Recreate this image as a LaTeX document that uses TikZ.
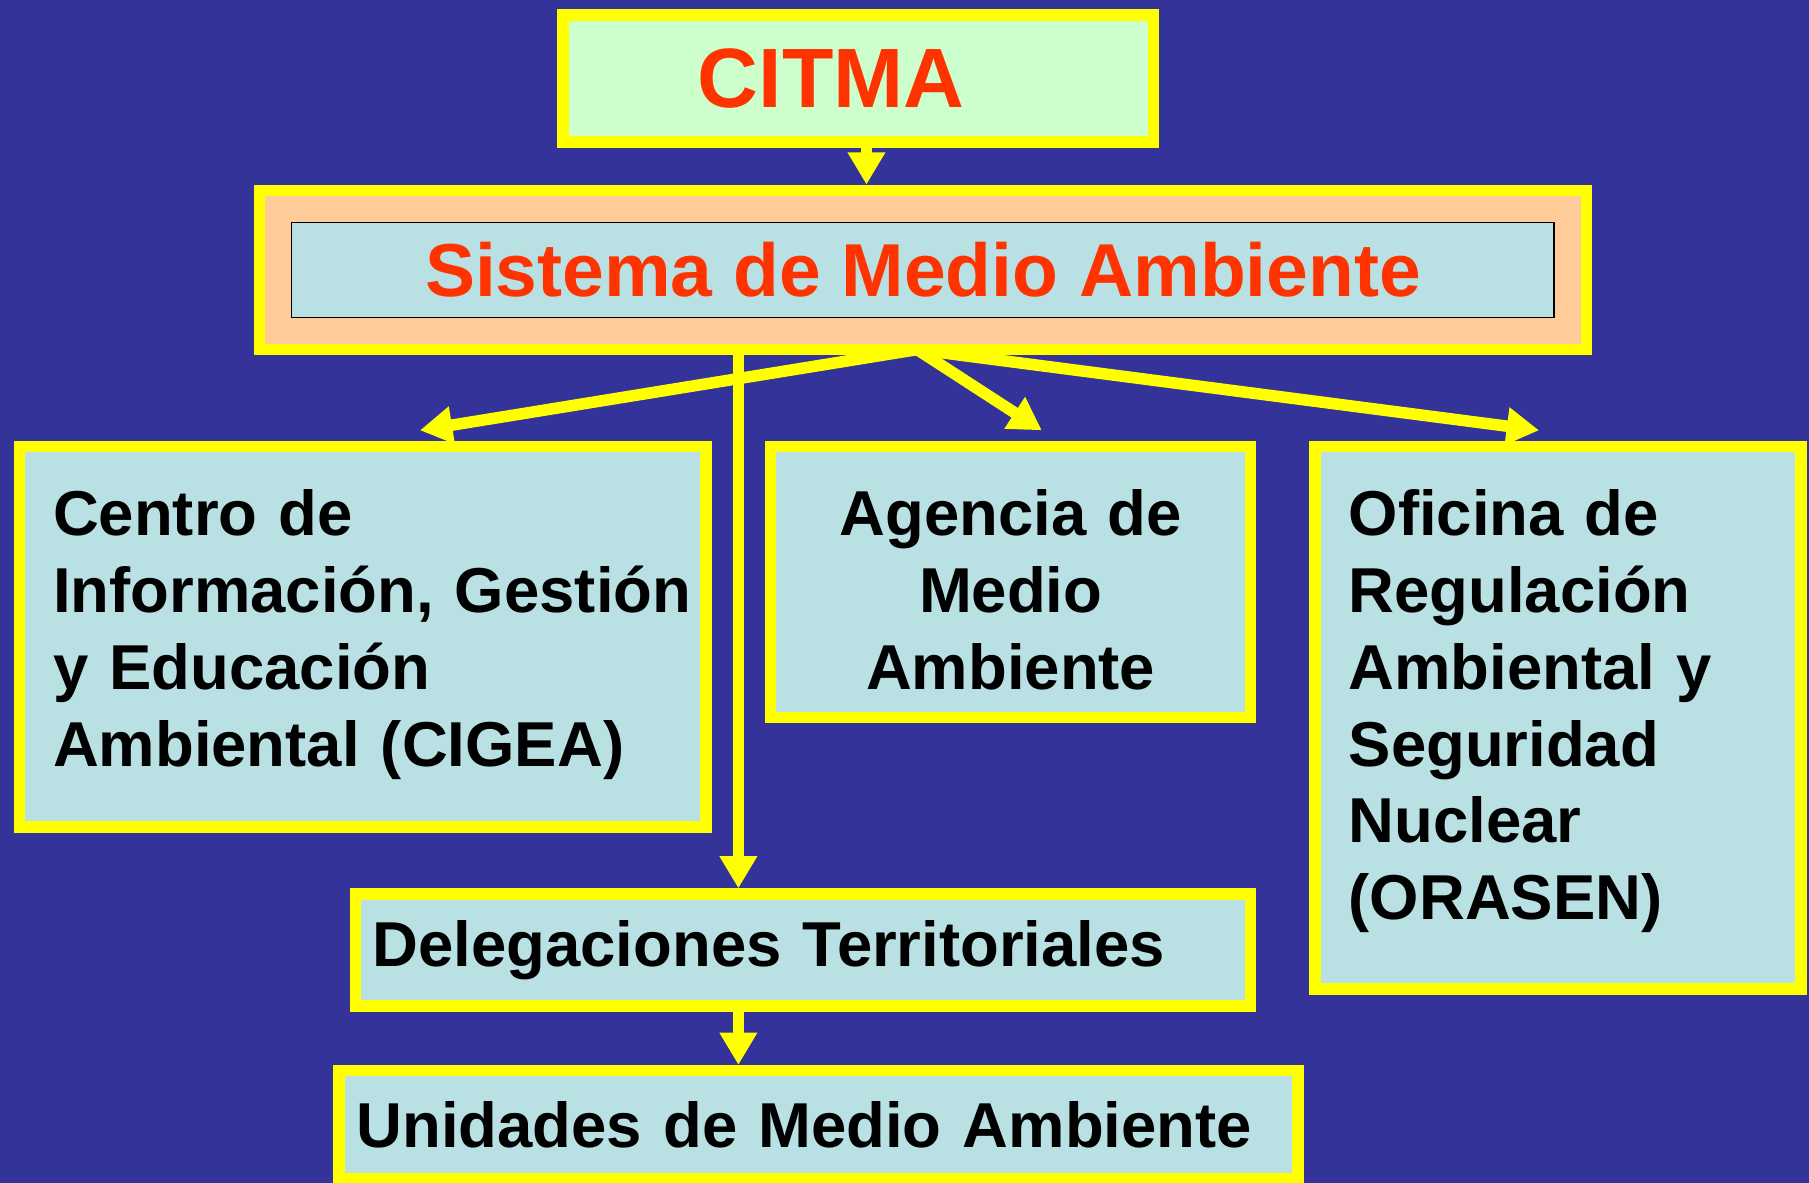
\documentclass[tikz,border=0pt]{standalone}
\usepackage{fontspec}
\setmainfont{Liberation Sans}
\usepackage{xcolor}
\usetikzlibrary{arrows.meta}

\definecolor{bgblue}{HTML}{333399}
\definecolor{lineyellow}{HTML}{FFFF00}
\definecolor{paleblue}{HTML}{B9E0E3}
\definecolor{palegreen}{HTML}{CCFFCC}
\definecolor{peach}{HTML}{FFCC99}
\definecolor{titlered}{HTML}{FF3300}

\newcommand{\boxfont}{\fontsize{55pt}{66.5pt}\selectfont\bfseries}
\newcommand{\smafont}{\fontsize{65pt}{78pt}\selectfont\bfseries}
\newcommand{\citmafont}{\fontsize{73pt}{88pt}\selectfont\bfseries}

\pgfdeclarelayer{bg}
\pgfdeclarelayer{links}
\pgfsetlayers{bg,links,main}

\begin{document}
\begin{tikzpicture}[x=1pt,y=-1pt,
        box/.style={draw=lineyellow,line width=10pt,fill=paleblue,inner ysep=0pt,font=\boxfont},
        arr/.style={lineyellow,line width=10pt,-{Triangle[length=28pt,width=31pt]}}]
        % background
        \begin{pgfonlayer}{bg}
            \fill[bgblue] (0,0) rectangle (1568,1025);
        \end{pgfonlayer}
        \useasboundingbox (0,0) rectangle (1568,1025);
        % top
        \node (citma) at (744,68) [box,fill=palegreen,minimum width=512pt,minimum height=110pt,
            text width=278pt,inner xsep=117pt,align=left,font=\citmafont,text=titlered] {CITMA};
        \node (sma) at (800,234) [box,fill=peach,minimum width=1150pt,minimum height=138pt] {};
        \node (smatext) at (sma.center) [draw=black,line width=1.5pt,fill=paleblue,inner sep=0pt,
            minimum width=1094.5pt,minimum height=82.5pt,font=\smafont,text=titlered] {Sistema de Medio Ambiente};
        % units
        \node (cigea) at (314.5,552) [box,minimum width=595pt,minimum height=330pt,
            text width=537pt,inner xsep=29pt,align=left,text height=40pt,text depth=215pt]
            {Centro de\\Información,~Gestión\\y Educación\\Ambiental (CIGEA)};
        \node (agencia) at (876,504.5) [box,minimum width=416pt,minimum height=235pt,
            text width=380pt,inner xsep=18pt,align=center,text height=40pt,text depth=120pt]
            {Agencia de\\Medio\\Ambiente};
        \node (orasen) at (1350.5,622) [box,minimum width=421pt,minimum height=470pt,
            text width=363pt,inner xsep=29pt,align=left,text height=40pt,text depth=355pt]
            {Oficina de\\Regulación\\Ambiental y\\Seguridad\\Nuclear\\(ORASEN)};
        \node (deleg) at (696,823.5) [box,minimum width=776pt,minimum height=97pt,
            text width=746pt,inner xsep=15pt,align=left] {Delegaciones Territoriales};
        \node (umedio) at (709.5,975) [box,minimum width=831pt,minimum height=94pt,
            text width=801pt,inner xsep=15pt,align=left] {Unidades de Medio Ambiente};
        % links
        \coordinate (hub) at ([xshift=-5pt,yshift=5pt]sma.south);
        \coordinate (c1) at ([xshift=7pt]citma.south);
        \coordinate (d1) at ([xshift=-56pt]deleg.north);
        \coordinate (d2) at ([xshift=-56pt]deleg.south);
        \begin{pgfonlayer}{links}
            \draw[arr] (c1) -- (c1 |- sma.north);
            \foreach \t/\dx in {cigea/49.5,agencia/27,orasen/-16.5} {
                \draw[arr] (hub) -- ([xshift=\dx pt,yshift=9pt]\t.north);
            }
            \draw[arr] (d1 |- sma.south) -- (d1);
            \draw[arr] (d2) -- (d2 |- umedio.north);
        \end{pgfonlayer}
\end{tikzpicture}
\end{document}
